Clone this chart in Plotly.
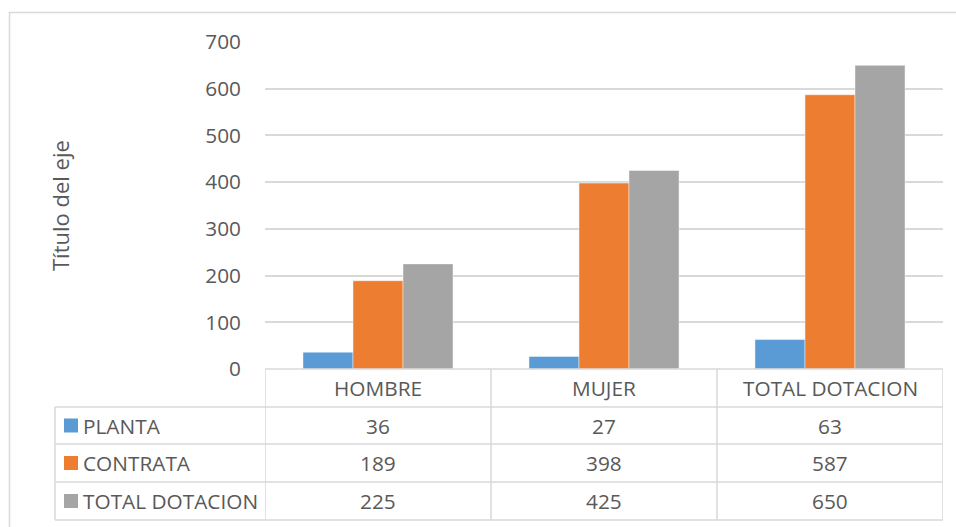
import plotly.graph_objects as go

# ---- data ----
categories = ["HOMBRE", "MUJER", "TOTAL DOTACION"]
series_names = ["PLANTA", "CONTRATA", "TOTAL DOTACION"]
planta = [36, 27, 63]
contrata = [189, 398, 587]
total_dotacion = [225, 425, 650]
y_ticks = [0, 100, 200, 300, 400, 500, 600, 700]
axis_title = "Título del eje"

series_values = [planta, contrata, total_dotacion]
colors = ["#5B9BD5", "#ED7D31", "#A5A5A5"]

W, H = 956, 527
def px_x(x):
    return x / W
def px_y(y):
    return 1 - y / H

FONT = "Open Sans"
FS = 20.8
TXT = "#595959"
GRID = "#D9D9D9"

fig = go.Figure()
for name, vals, col in zip(series_names, series_values, colors):
    fig.add_trace(go.Bar(x=categories, y=vals, name=name,
                         marker=dict(color=col, line=dict(width=0.8, color="rgba(255,255,255,0.55)"))))

plot_left, plot_right = 265, 943
plot_top, plot_bottom = 42, 369

fig.update_layout(
    template="none",
    width=W, height=H, autosize=False,
    margin=dict(l=0, r=0, t=0, b=0, pad=0),
    paper_bgcolor="white", plot_bgcolor="white",
    showlegend=False,
    barmode="group", bargap=0.336, bargroupgap=0,
    font=dict(family=FONT, size=FS, color=TXT),
    xaxis=dict(domain=[px_x(plot_left), px_x(plot_right)], automargin=False,
               range=[-0.5, 2.5], showticklabels=False, showgrid=False,
               zeroline=False, showline=False, ticks=""),
    yaxis=dict(domain=[px_y(plot_bottom), px_y(plot_top)], automargin=False,
               range=[0, 700], tickvals=y_ticks, showgrid=True,
               gridcolor=GRID, gridwidth=1.5, zeroline=False, showline=False,
               ticks="", ticklabelstandoff=23,
               tickfont=dict(family=FONT, size=FS, color=TXT)),
)

shapes = []
# outer chart border
shapes.append(dict(type="rect", xref="paper", yref="paper",
                   x0=px_x(9.5), x1=px_x(960), y0=px_y(12.5), y1=px_y(531),
                   line=dict(color=GRID, width=1.5), fillcolor="rgba(0,0,0,0)", layer="below"))

# table geometry (pixels)
tbl_left = 55
row_lines = [369, 407, 444, 482, 520]
line_style = dict(color=GRID, width=1.5)

# horizontal lines
shapes.append(dict(type="line", xref="x", yref="paper", x0=-0.5, x1=2.5,
                   y0=px_y(row_lines[0]), y1=px_y(row_lines[0]), line=line_style))
for yy in row_lines[1:]:
    shapes.append(dict(type="line", xref="paper", yref="paper", x0=px_x(tbl_left), x1=px_x(plot_right),
                       y0=px_y(yy), y1=px_y(yy), line=line_style))
# vertical lines
shapes.append(dict(type="line", xref="paper", yref="paper", x0=px_x(tbl_left), x1=px_x(tbl_left),
                   y0=px_y(row_lines[1]), y1=px_y(row_lines[-1]), line=line_style))
for i in range(len(categories) + 1):
    shapes.append(dict(type="line", xref="x", yref="paper", x0=i - 0.5, x1=i - 0.5,
                       y0=px_y(row_lines[0]), y1=px_y(row_lines[-1]), line=line_style))

annotations = []
# header labels
hdr_mid = (row_lines[0] + row_lines[1]) / 2
for c in categories:
    annotations.append(dict(x=c, xref="x", y=px_y(hdr_mid), yref="paper", text=c,
                            showarrow=False, xanchor="center", yanchor="middle",
                            font=dict(family=FONT, size=FS, color=TXT)))
# rows
for r, (name, vals, col) in enumerate(zip(series_names, series_values, colors)):
    mid = (row_lines[r + 1] + row_lines[r + 2]) / 2
    shapes.append(dict(type="rect", xref="paper", yref="paper",
                       x0=px_x(64), x1=px_x(78), y0=px_y(mid + 7), y1=px_y(mid - 7),
                       fillcolor=col, line=dict(width=0)))
    annotations.append(dict(x=px_x(81), xref="paper", y=px_y(mid), yref="paper", text=name,
                            showarrow=False, xanchor="left", yanchor="middle",
                            font=dict(family=FONT, size=FS, color=TXT)))
    for c, v in zip(categories, vals):
        annotations.append(dict(x=c, xref="x", y=px_y(mid), yref="paper", text=str(v),
                                showarrow=False, xanchor="center", yanchor="middle",
                                font=dict(family=FONT, size=FS, color=TXT)))

# axis title
annotations.append(dict(x=px_x(60), xref="paper", y=px_y(206), yref="paper", text=axis_title,
                        textangle=-90, showarrow=False, xanchor="center", yanchor="middle",
                        font=dict(family=FONT, size=22, color=TXT)))

fig.update_layout(shapes=shapes, annotations=annotations)
fig.write_html("out.html", config={"displayModeBar": False},
               post_script="document.body.style.margin='0';document.body.style.overflow='hidden';")
